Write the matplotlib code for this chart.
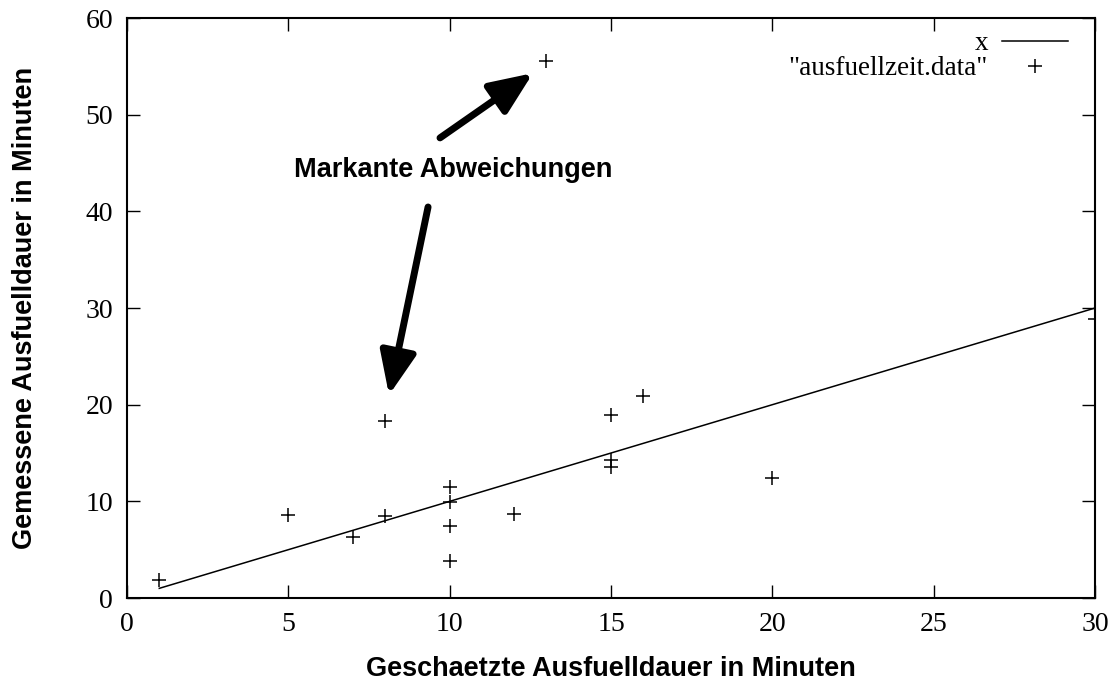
import matplotlib.pyplot as plt

# estimated vs measured fill-in time (minutes)
geschaetzt = [1, 5, 7, 8, 8, 10, 10, 10, 10, 12, 13, 15, 15, 15, 16, 20, 30]
gemessen = [1.9, 8.6, 6.3, 18.3, 8.5, 11.5, 9.9, 7.5, 3.8, 8.7, 55.6, 18.9, 14.3, 13.6, 20.9, 12.4, 28.9]

linie_x = [1, 30]
linie_y = [1, 30]

plt.rcParams['font.family'] = ['Liberation Serif', 'DejaVu Serif']

fig = plt.figure(figsize=(11.19, 6.88), dpi=100)
ax = fig.add_axes([0.1135, 0.1308, 0.8651, 0.843])

ax.plot(linie_x, linie_y, color="black", lw=1.1, label="x")
ax.plot(geschaetzt, gemessen, linestyle="none", marker="+", markersize=10,
        markeredgewidth=1.1, color="black", label='"ausfuellzeit.data"')

ax.set_xlim(0, 30)
ax.set_ylim(0, 60)
ax.set_xticks(range(0, 31, 5))
ax.set_yticks(range(0, 61, 10))
ax.tick_params(direction="in", length=9.5, width=1, top=True, right=True,
               labelsize=20, pad=10)
for s in ax.spines.values():
    s.set_linewidth(1.5)

lab = dict(family=['Liberation Sans', 'DejaVu Sans'], fontweight="bold", fontsize=19.5)
ax.set_xlabel("Geschaetzte Ausfuelldauer in Minuten", labelpad=14, **lab)
ax.set_ylabel("Gemessene Ausfuelldauer in Minuten", labelpad=34, **lab)

ax.text(10.1, 44.3, "Markante Abweichungen", ha="center", va="center", **lab)
pfeil = dict(arrowstyle="-|>,head_length=1.3,head_width=0.55", lw=5, color="black",
             shrinkA=0, shrinkB=0, mutation_scale=20)
ax.annotate("", xy=(12.58, 54.3), xytext=(9.70, 47.6), arrowprops=pfeil)
ax.annotate("", xy=(8.12, 21.0), xytext=(9.33, 40.45), arrowprops=pfeil)

ax.legend(loc="upper right", bbox_to_anchor=(0.972, 0.977), markerfirst=False,
          frameon=False, fontsize=19.5, handlelength=2.45, labelspacing=0.0,
          borderaxespad=0, borderpad=0, handletextpad=0.5)

fig.savefig("out.png", dpi=100)
